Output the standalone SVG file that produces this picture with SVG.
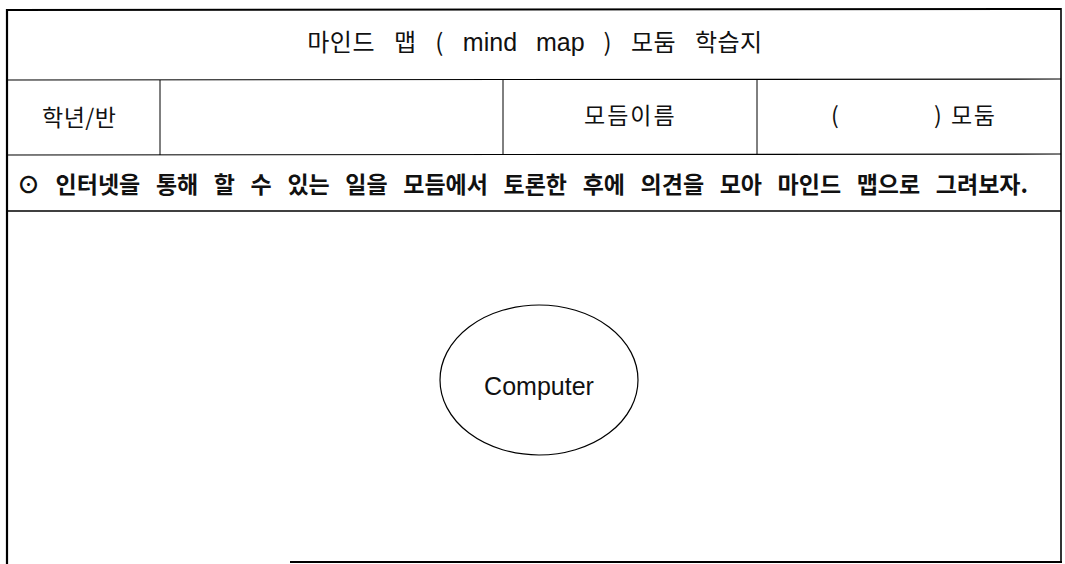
<svg xmlns="http://www.w3.org/2000/svg" width="1065" height="564" viewBox="0 0 1065 564">
<style>
.ln{stroke:#000;fill:none}
.t{font-family:"Noto Sans CJK KR","Noto Sans",sans-serif;fill:#111}
.lat{font-family:"Liberation Sans",Arial,sans-serif}
</style>
<rect width="1065" height="564" fill="#fff"/>
<g id="frame">
<line class="ln" x1="6" y1="10" x2="1061" y2="9" stroke-width="2"/>
<line class="ln" x1="7" y1="9" x2="7" y2="564" stroke-width="2.2"/>
<line class="ln" x1="1061" y1="8" x2="1061" y2="562" stroke-width="1.6"/>
<line class="ln" x1="290" y1="562" x2="1062" y2="562" stroke-width="2"/>
<line class="ln" x1="6" y1="80" x2="1061" y2="79" stroke-width="1.2"/>
<line class="ln" x1="6" y1="155" x2="1061" y2="154" stroke-width="1.2"/>
<line class="ln" x1="6" y1="211" x2="1061" y2="211" stroke-width="1.4"/>
<line class="ln" x1="160" y1="80" x2="160" y2="155" stroke-width="1"/>
<line class="ln" x1="503" y1="79" x2="503" y2="154" stroke-width="1"/>
<line class="ln" x1="757" y1="79" x2="757" y2="154" stroke-width="1"/>
</g>
<g id="title">
<text class="t" x="535" y="51" font-size="24" text-anchor="middle" letter-spacing="0.5" word-spacing="13">마인드 맵 ( <tspan class="lat" font-size="25" letter-spacing="0">mind</tspan> <tspan class="lat" font-size="25" letter-spacing="0">map</tspan> ) 모둠 학습지</text>
</g>
<g id="row2">
<text class="t" x="42" y="126" font-size="23" letter-spacing="0.5">학년/반</text>
<text class="t" x="584" y="124" font-size="23" letter-spacing="2">모듬이름</text>
<text class="t" x="831" y="124" font-size="23">(</text>
<text class="t" x="934" y="124" font-size="23">)</text>
<text class="t" x="951" y="124" font-size="23" letter-spacing="1.5">모둠</text>
</g>
<g id="instruction">
<text class="t" x="17" y="193" font-size="23" font-weight="bold" word-spacing="10.4"><tspan font-size="23">⊙</tspan> 인터넷을 통해 할 수 있는 일을 모듬에서 토론한 후에 의견을 모아 마인드 맵으로 그려보자.</text>
</g>
<g id="computer">
<ellipse class="ln" cx="539" cy="380" rx="99" ry="75" stroke-width="1.2"/>
<text x="539" y="395" font-family="Liberation Sans,Arial,sans-serif" font-size="25" text-anchor="middle" fill="#111">Computer</text>
</g>
<g id="connectors"/>
</svg>
